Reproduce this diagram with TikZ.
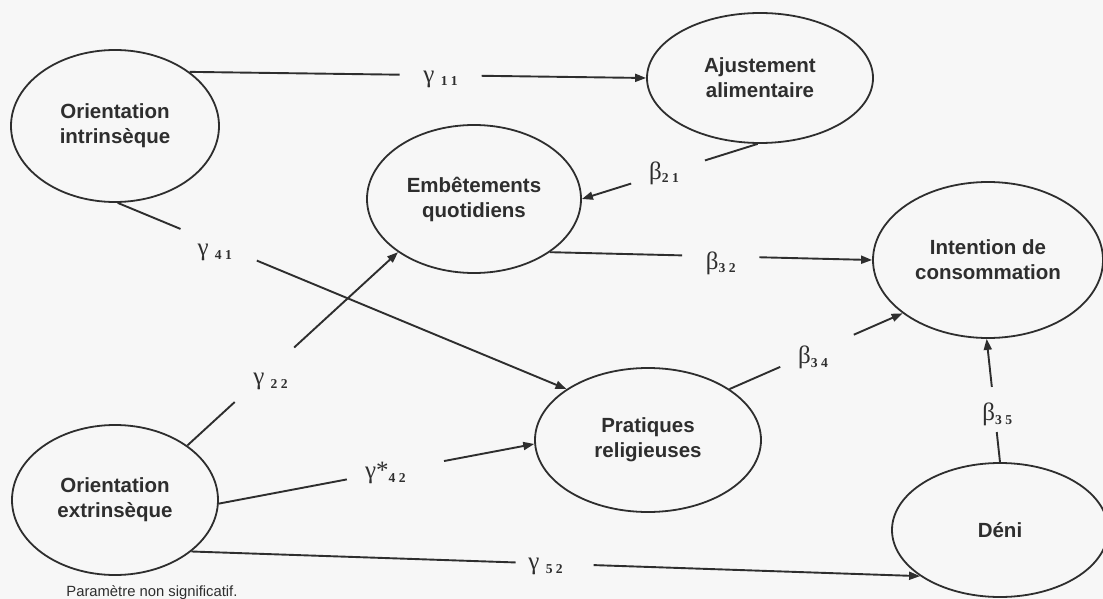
\documentclass[tikz,border=0pt]{standalone}
\usepackage{fontspec}
\setmainfont{Liberation Serif}
\setsansfont{Liberation Sans}
\usetikzlibrary{shapes.geometric,arrows.meta,calc}

\definecolor{ink}{gray}{0.18}
\definecolor{paper}{gray}{0.97}

\newcommand{\coef}[2]{#1\raisebox{-.3ex}{\fontsize{6.8}{7}\bfseries #2}}
\newcommand{\drawlink}[7]{%
    % #1 from, #2 to, #3 and #4 gap as fractions, #5 label name, #6 label shift, #7 label
        % split the line
        \path (#1) -- (#2) coordinate[pos=#3] (#5a) coordinate[pos=#4] (#5b);
        % draw first part
        \draw [link] (#1) -- (#5a);
        % draw second part with arrow
        \draw [link, -{Triangle[length=5.5pt, width=4pt]}] (#5b) -- (#2);
        % draw label in the gap
        \node [coef, shift={#6}] (#5) at ($(#5a)!0.5!(#5b)$) {#7};
}

\begin{document}
\begin{tikzpicture}[x=0.5pt, y=-0.5pt,
    var/.style={ellipse, draw=ink, line width=0.9pt, inner sep=0pt, align=center, text=ink,
        font=\sffamily\bfseries\fontsize{10.25}{12.5}\selectfont},
    link/.style={draw=ink, line width=0.95pt},
    coef/.style={inner sep=0pt, text=ink, font=\fontsize{12.5}{14}\selectfont}]
\fill[paper] (0,0) rectangle (1103,599);
\useasboundingbox (0,0) rectangle (1103,599);
% latent variables
\node[var, minimum width=104pt, minimum height=76pt] (oi) at (115,126) {Orientation\\intrinsèque};
\node[var, minimum width=113pt, minimum height=65pt] (aa) at (760,78) {Ajustement\\alimentaire};
\node[var, minimum width=107pt, minimum height=74pt] (eq) at (474,199) {Embêtements\\quotidiens};
\node[var, minimum width=115pt, minimum height=78pt] (ic) at (988,260) {Intention de\\consommation};
\node[var, minimum width=113pt, minimum height=72pt] (pr) at (648,440) {Pratiques\\religieuses};
\node[var, minimum width=108pt, minimum height=67pt] (de) at (1000,530) {Déni};
\node[var, minimum width=103pt, minimum height=75pt] (oe) at (115,500) {Orientation\\extrinsèque};
% paths
\drawlink{oi.36}{aa.180}{0.46}{0.64}{g11}{(0,4)}{\coef{γ~}{1 1}}
\drawlink{aa.268}{eq.0}{0.30}{0.72}{b21}{(-4,1)}{\coef{β}{2 1}}
\drawlink{eq.-35}{ic.180}{0.41}{0.65}{b32}{(0,7)}{\coef{β}{3 2}}
\drawlink{oi.-88}{pr.148}{0.14}{0.31}{g41}{(-4,8)}{\coef{γ~}{4 1}}
\drawlink{oe.37}{eq.215}{0.225}{0.507}{g22}{(6,7)}{\coef{γ~}{2 2}}
\drawlink{oe.-2}{pr.182}{0.406}{0.714}{g42}{(-10,3)}{\coef{γ*}{4 2}}
\drawlink{oe.-34}{de.210}{0.445}{0.552}{g52}{(-9,3)}{\coef{γ~}{5 2}}
\drawlink{pr.32}{ic.212}{0.293}{0.718}{b34}{(-4,7)}{\coef{β}{3 4}}
\drawlink{de.90}{ic.269}{0.244}{0.61}{b35}{(3,5)}{\coef{β}{3 5}}
% footnote
\node[anchor=west, inner sep=0pt, text=ink, font=\sffamily\fontsize{7.4}{9}\selectfont] (note) at (66,593) {Paramètre non significatif.};
\end{tikzpicture}
\end{document}
